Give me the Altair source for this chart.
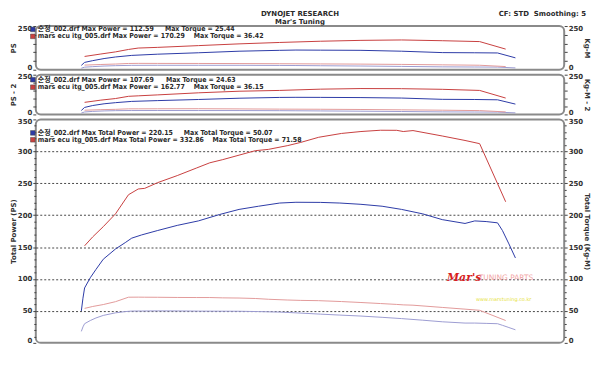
import altair as alt
import pandas as pd

FONT = "DejaVu Sans, Noto Sans CJK KR"
LFONT = "DejaVu Sans Condensed, DejaVu Sans, Noto Sans CJK KR"

# ---------------- data ----------------
keys = ["stock_ps", "mars_ps", "stock_kgm", "mars_kgm"]
key_colors = ["#2c3aa6", "#c8403f", "#9c9cd2", "#e29a9a"]

# Roller 1 (PS / Kg-M)
r1_rpm_stock = [2.03, 2.05, 2.10, 2.17, 2.24, 2.34, 2.50, 2.75, 3.00, 3.25, 3.35, 3.50, 3.75, 4.00, 4.25, 4.45, 4.59, 4.70]
r1_ps_stock = [25, 42, 52, 64, 73, 82, 89, 97, 106, 111, 112.6, 112, 111, 106, 98, 97, 96, 68]
r1_kgm_stock = [8.8, 14.7, 17.7, 21.1, 23.3, 25.1, 25.4, 25.3, 25.3, 24.5, 24.1, 22.9, 21.2, 19.0, 16.5, 15.6, 15.0, 10.4]
r1_rpm_mars = [2.05, 2.15, 2.24, 2.32, 2.38, 2.50, 2.75, 3.00, 3.25, 3.50, 3.75, 4.00, 4.25, 4.48, 4.64]
r1_ps_mars = [76, 90, 102, 116, 124, 128, 138, 148, 156, 163, 168, 170.3, 166, 161, 118]
r1_kgm_mars = [26.5, 30.0, 32.6, 35.8, 36.4, 36.2, 35.9, 35.3, 34.4, 33.3, 32.1, 30.4, 28.0, 25.7, 18.2]

# Roller 2 (PS - 2 / Kg-M - 2)
r2_rpm_stock = [2.03, 2.05, 2.10, 2.17, 2.24, 2.34, 2.50, 2.75, 3.00, 3.25, 3.35, 3.50, 3.75, 4.00, 4.25, 4.45, 4.59, 4.70]
r2_ps_stock = [25, 44, 56, 67, 74, 82, 87, 94, 102, 107, 107.7, 107.3, 106, 103, 95, 94, 92, 65]
r2_kgm_stock = [8.8, 15.4, 19.1, 22.1, 23.7, 24.5, 24.6, 24.5, 24.3, 23.6, 23.0, 22.0, 20.2, 18.4, 16.0, 15.1, 14.4, 9.9]
r2_rpm_mars = [2.05, 2.15, 2.24, 2.32, 2.38, 2.50, 2.75, 3.00, 3.25, 3.50, 3.75, 4.00, 4.25, 4.48, 4.64]
r2_ps_mars = [76, 90, 100, 114, 117, 123, 136, 146, 151, 159, 162.8, 162, 158, 151, 103]
r2_kgm_mars = [26.5, 30.0, 32.0, 35.2, 35.3, 35.6, 36.1, 34.8, 33.3, 32.5, 31.1, 29.0, 26.6, 24.1, 15.9]

# Total (Total Power (PS) / Total Torque (Kg-M))
tot_rpm_stock = [2.03, 2.04, 2.05, 2.085, 2.12, 2.165, 2.24, 2.30, 2.34, 2.40, 2.50, 2.62, 2.75, 2.88, 3.00, 3.12,
                 3.25, 3.35, 3.50, 3.62, 3.75, 3.88, 4.00, 4.13, 4.25, 4.39, 4.45, 4.52, 4.59, 4.62, 4.66, 4.70]
tot_ps_stock = [50, 70, 86, 102, 115, 131, 147, 157, 164, 169, 176, 184, 191, 201, 209, 214,
                219, 220.2, 220, 219, 217, 214, 209, 202, 193, 187, 191, 190, 188, 176, 155, 133]
tot_kgm_stock = [18, 25, 30, 35, 39, 43, 47, 49, 49.8, 49.9, 50.1, 50, 49.7, 49.6, 49.5, 49,
                 48.2, 47, 45, 43.5, 42, 40, 38, 35.5, 33, 31, 31, 30.5, 30, 27.5, 24, 20.5]
tot_rpm_mars = [2.05, 2.10, 2.165, 2.24, 2.32, 2.38, 2.42, 2.50, 2.62, 2.74, 2.82, 2.90, 3.00, 3.10,
                3.18, 3.30, 3.38, 3.49, 3.63, 3.75, 3.87, 3.97, 4.01, 4.07, 4.25, 4.39, 4.48, 4.64]
tot_ps_mars = [152, 166, 182, 202, 232, 241, 242, 251, 262, 274, 282, 287, 294, 301,
               303, 309, 314, 322, 328, 331, 333, 332.9, 331, 332.5, 324, 317, 312, 221]
tot_kgm_mars = [54, 57, 60, 64.5, 71.5, 71.6, 71.5, 71.4, 71.1, 71.0, 71.0, 70.5, 70.2, 69.5,
                68.3, 67.1, 66.5, 66.1, 64.7, 63.2, 61.6, 60.2, 59.5, 59, 55.5, 52.8, 51, 35]

# Legend texts
legend_r1 = [("순정_002.drf Max Power = 112.59", "Max Torque = 25.44"),
             ("mars ecu itg_005.drf Max Power = 170.29", "Max Torque = 36.42")]
legend_r2 = [("순정_002.drf Max Power = 107.69", "Max Torque = 24.63"),
             ("mars ecu itg_005.drf Max Power = 162.77", "Max Torque = 36.15")]
legend_tot = [("순정_002.drf Max Total Power = 220.15", "Max Total Torque = 50.07"),
              ("mars ecu itg_005.drf Max Total Power = 332.86", "Max Total Torque = 71.58")]
legend_colors = ["#2c3aa6", "#c8403f"]

x_major = [1.75, 2.00, 2.25, 2.50, 2.75, 3.00, 3.25, 3.50, 3.75, 4.00, 4.25, 4.50, 4.75, 5.00]
x_minor = [round(1.75 + 0.05 * i, 2) for i in range(66)]

# ---------------- layout ----------------
W = 532
H_TOP, H_MID, H_BOT = 44, 40, 225

IS_MAJ = "abs(datum.value*4 - round(datum.value*4)) < 0.01"
INNER = IS_MAJ + " && datum.value > 1.8 && datum.value < 4.9"
xscale = alt.Scale(domain=[1.75, 5.0], nice=False, zero=False)


def df_of(rpm, vals, key):
    return pd.DataFrame({"rpm": rpm, "val": vals, "key": key})


def label(text, x, y, size=7, color="#2a2a2a", align="left", weight="bold", style="normal", font=LFONT):
    return alt.Chart(pd.DataFrame({"t": [text]})).mark_text(
        align=align, baseline="middle", fontSize=size, fontWeight=weight,
        fontStyle=style, font=font, color=color
    ).encode(x=alt.value(x), y=alt.value(y), text="t:N")


def square(x, y, color):
    return alt.Chart(pd.DataFrame({"t": [0]})).mark_square(
        size=22, color=color, opacity=1, stroke="#444", strokeWidth=0.5
    ).encode(x=alt.value(x), y=alt.value(y))


def legend_layers(items, y1, y2, x2a, x2b):
    out = []
    for (a, b), y, xb, c in zip(items, [y1, y2], [x2a, x2b], legend_colors):
        out.append(square(-3, y, c))
        out.append(label(a, 2, y))
        out.append(label(b, xb, y))
    return out


def panel(power_df, torque_df, h, ymax, ystep, left_title, right_title, bottom, extra):
    if bottom:
        x_axis = alt.Axis(values=x_minor, labelExpr=f"{IS_MAJ} ? format(datum.value, '.2f') : ''",
                          labelOverlap=False, labelPadding=1, titlePadding=2,
                          tickSize={"condition": {"test": IS_MAJ, "value": 4}, "value": 2},
                          grid=True, gridOpacity={"condition": {"test": INNER, "value": 0.9}, "value": 0},
                          gridDash=[2, 2], gridColor="#333", domain=False,
                          title="Engine Speed (RPM x1000)")
        ylab = "datum.value % 50 == 0 ? datum.label : ''"
        ygrid = "datum.value % 50 == 0 && datum.value > 0 && datum.value < 350"
    else:
        x_axis = alt.Axis(values=x_major, labels=False, ticks=False, domain=False, title=None,
                          grid=True, gridOpacity={"condition": {"test": INNER, "value": 0.9}, "value": 0},
                          gridDash=[2, 2], gridColor="#333")
        ylab = f"datum.value == 0 || datum.value == {ymax} ? datum.label : ''"
        ygrid = "false"
    yvals = list(range(0, ymax + 1, ystep))
    maj_test = "datum.value % 50 == 0"
    offs = {"condition": [{"test": "datum.value == 0", "value": -2},
                          {"test": f"datum.value == {ymax}", "value": 2}], "value": 0}

    def yaxis(orient, title, grid):
        kw = dict(values=yvals, labelExpr=ylab, orient=orient, title=title, labelOverlap=False,
                  labelPadding=1, titlePadding=1, domain=False, labelOffset=offs,
                  tickSize={"condition": {"test": maj_test, "value": 3}, "value": 2})
        if grid:
            kw.update(grid=True, gridOpacity={"condition": {"test": ygrid, "value": 0.9}, "value": 0},
                      gridDash=[2, 2], gridColor="#333")
        else:
            kw.update(grid=False)
        return alt.Axis(**kw)

    color = alt.Color("key:N", scale=alt.Scale(domain=keys, range=key_colors), legend=None)
    torque = alt.Chart(torque_df).mark_line(strokeWidth=1).encode(
        x=alt.X("rpm:Q", scale=xscale, axis=None),
        y=alt.Y("val:Q", scale=alt.Scale(domain=[0, ymax], nice=False), axis=yaxis("right", right_title, False)),
        color=color)
    power = alt.Chart(power_df).mark_line(strokeWidth=1).encode(
        x=alt.X("rpm:Q", scale=xscale, axis=x_axis),
        y=alt.Y("val:Q", scale=alt.Scale(domain=[0, ymax], nice=False), axis=yaxis("left", left_title, bottom)),
        color=color)
    return alt.layer(power, torque, *extra).resolve_scale(y="independent").properties(width=W, height=h)


# ---- top panel ----
p1 = pd.concat([df_of(r1_rpm_stock, r1_ps_stock, "stock_ps"), df_of(r1_rpm_mars, r1_ps_mars, "mars_ps")])
t1 = pd.concat([df_of(r1_rpm_stock, r1_kgm_stock, "stock_kgm"), df_of(r1_rpm_mars, r1_kgm_mars, "mars_kgm")])
top_extra = legend_layers(legend_r1, 3.4, 10.4, 130, 159) + [
    label("DYNOJET RESEARCH", W / 2, -12, size=7, align="center", font=FONT),
    label("Mar's Tuning", W / 2, -4.5, size=7, align="center", font=FONT),
    label("CF: STD\u00a0\u00a0Smoothing: 5", W + 22, -12, size=7, align="right", font=FONT),
]
top = panel(p1, t1, H_TOP, 250, 50, "PS", "Kg-M", False, top_extra)

# ---- middle panel ----
p2 = pd.concat([df_of(r2_rpm_stock, r2_ps_stock, "stock_ps"), df_of(r2_rpm_mars, r2_ps_mars, "mars_ps")])
t2 = pd.concat([df_of(r2_rpm_stock, r2_kgm_stock, "stock_kgm"), df_of(r2_rpm_mars, r2_kgm_mars, "mars_kgm")])
mid = panel(p2, t2, H_MID, 250, 50, "PS - 2", "Kg-M - 2", False, legend_layers(legend_r2, 5, 12.6, 131, 159))

# ---- bottom panel ----
p3 = pd.concat([df_of(tot_rpm_stock, tot_ps_stock, "stock_ps"), df_of(tot_rpm_mars, tot_ps_mars, "mars_ps")])
t3 = pd.concat([df_of(tot_rpm_stock, tot_kgm_stock, "stock_kgm"), df_of(tot_rpm_mars, tot_kgm_mars, "mars_kgm")])
bot_extra = legend_layers(legend_tot, 13.6, 20.5, 149, 178) + [
    label("Mar's", 414, 160, size=11, color="#d81e1e", weight="bold", style="italic", font="DejaVu Serif"),
    label("TUNING PARTS", 446, 160, size=7.5, color="#f2a6a6", weight="normal", font=FONT),
    label("www.marstuning.co.kr", 471, 181, size=5, color="#e6e23c", align="center", weight="normal", font=FONT),
]
bot = panel(p3, t3, H_BOT, 350, 10, "Total Power (PS)", "Total Torque (Kg-M)", True, bot_extra)

chart = alt.vconcat(top, mid, bot, spacing=5, bounds="flush").properties(
    padding=0, background="white"
).configure_view(
    stroke="#8a8a8a", strokeWidth=2, cornerRadius=5
).configure_axis(
    labelFont=FONT, labelFontSize=7, labelFontWeight="bold", labelColor="#333",
    titleFont=FONT, titleFontSize=7, titleFontWeight="bold", titleColor="#333",
    tickColor="#444"
)

chart.save("out.html", embed_options={"renderer": "svg", "actions": False})
